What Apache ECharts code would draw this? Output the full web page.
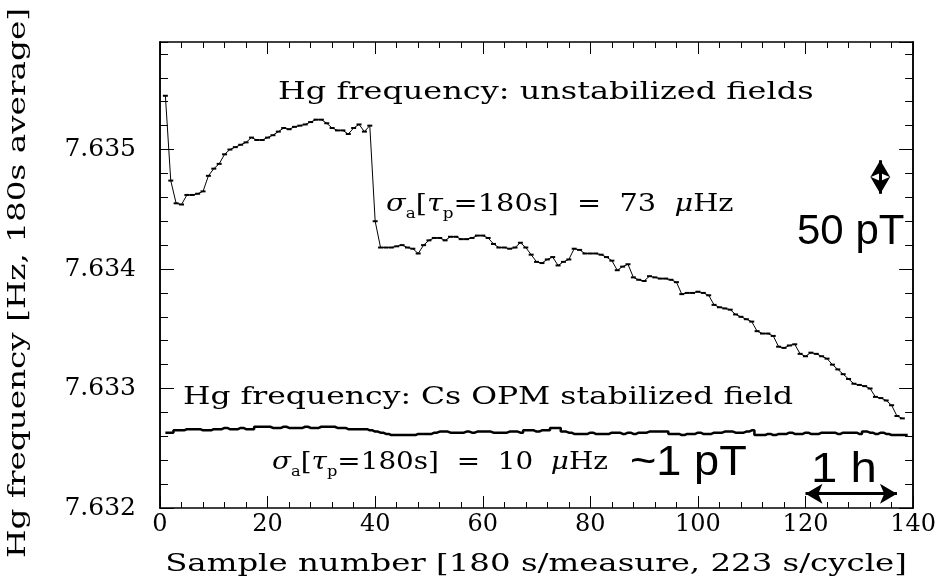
<!DOCTYPE html>
<html>
<head>
<meta charset="utf-8">
<script src="https://cdn.jsdelivr.net/npm/echarts@6/dist/echarts.min.js"></script>
<style>
html, body { margin: 0; padding: 0; background: #fff; }
#chart { width: 939px; height: 585px; }
</style>
</head>
<body>
<div id="chart"></div>
<script>
// Hg frequency, unstabilized fields (sample 1..138)
var unstabilized = [
  7.63545, 7.63474, 7.63455, 7.63454, 7.63462, 7.63462, 7.63463, 7.63465, 7.63478, 7.63484,
  7.63488, 7.63496, 7.63500, 7.63502, 7.63504, 7.63506, 7.63510, 7.63508, 7.63508, 7.63510,
  7.63512, 7.63515, 7.63518, 7.63517, 7.63519, 7.63520, 7.63521, 7.63523, 7.63525, 7.63525,
  7.63522, 7.63518, 7.63516, 7.63516, 7.63513, 7.63518, 7.63521, 7.63515, 7.63520, 7.63440,
  7.63418, 7.63418, 7.63418, 7.63419, 7.63420, 7.63418, 7.63417, 7.63413, 7.63420, 7.63424,
  7.63426, 7.63426, 7.63424, 7.63427, 7.63427, 7.63425, 7.63425, 7.63426, 7.63428, 7.63428,
  7.63426, 7.63421, 7.63418, 7.63418, 7.63417, 7.63418, 7.63422, 7.63418, 7.63412, 7.63406,
  7.63405, 7.63408, 7.63410, 7.63403, 7.63406, 7.63408, 7.63417, 7.63416, 7.63413, 7.63413,
  7.63413, 7.63412, 7.63410, 7.63407, 7.63399, 7.63402, 7.63404, 7.63393, 7.63391, 7.63390,
  7.63394, 7.63393, 7.63392, 7.63392, 7.63391, 7.63389, 7.63379, 7.63380, 7.63380, 7.63381,
  7.63380, 7.63378, 7.63370, 7.63368, 7.63367, 7.63366, 7.63362, 7.63360, 7.63358, 7.63356,
  7.63348, 7.63346, 7.63346, 7.63344, 7.63335, 7.63334, 7.63336, 7.63337, 7.63329, 7.63327,
  7.63330, 7.63329, 7.63327, 7.63325, 7.63320, 7.63316, 7.63312, 7.63308, 7.63304, 7.63303,
  7.63302, 7.63300, 7.63293, 7.63292, 7.63290, 7.63286, 7.63277, 7.63275
];

// Hg frequency, Cs OPM stabilized field (sample 1..139)
var stabilized = [
  7.63263, 7.63263, 7.63265, 7.63265, 7.63266, 7.63266, 7.63266, 7.63265, 7.63265, 7.63266,
  7.63266, 7.63267, 7.63266, 7.63266, 7.63267, 7.63266, 7.63266, 7.63268, 7.63268, 7.63268,
  7.63267, 7.63267, 7.63268, 7.63267, 7.63267, 7.63267, 7.63268, 7.63267, 7.63267, 7.63268,
  7.63268, 7.63268, 7.63267, 7.63267, 7.63266, 7.63266, 7.63266, 7.63266, 7.63265, 7.63264,
  7.63263, 7.63262, 7.63261, 7.63261, 7.63261, 7.63261, 7.63261, 7.63262, 7.63262, 7.63262,
  7.63263, 7.63264, 7.63264, 7.63263, 7.63263, 7.63263, 7.63264, 7.63263, 7.63264, 7.63264,
  7.63264, 7.63263, 7.63263, 7.63263, 7.63264, 7.63264, 7.63263, 7.63265, 7.63265, 7.63264,
  7.63265, 7.63265, 7.63267, 7.63267, 7.63264, 7.63263, 7.63262, 7.63262, 7.63262, 7.63263,
  7.63262, 7.63262, 7.63262, 7.63263, 7.63263, 7.63262, 7.63263, 7.63262, 7.63263, 7.63263,
  7.63264, 7.63264, 7.63264, 7.63264, 7.63262, 7.63262, 7.63261, 7.63262, 7.63262, 7.63263,
  7.63262, 7.63262, 7.63263, 7.63263, 7.63264, 7.63264, 7.63263, 7.63263, 7.63264, 7.63265,
  7.63261, 7.63261, 7.63262, 7.63261, 7.63262, 7.63262, 7.63263, 7.63262, 7.63262, 7.63263,
  7.63262, 7.63262, 7.63263, 7.63263, 7.63263, 7.63262, 7.63263, 7.63263, 7.63263, 7.63262,
  7.63264, 7.63263, 7.63262, 7.63263, 7.63262, 7.63261, 7.63261, 7.63261, 7.63261
];

var xTicks = [0, 140, 20];           // min, max, step
var yTicks = [7.632, 7.6359, 0.001]; // min, max, step

// scale arrows: "1 h" (horizontal) and "50 pT" (vertical), data coords
var hourArrow = [[120, 7.63212], [137, 7.63212]];
var pTArrow = [[133.9, 7.63491], [133.9, 7.63463]];

function toPairs(arr) {
  return arr.map(function (v, i) { return [i + 1, v]; });
}

var serif = 'DejaVu Serif';
var sans = 'Liberation Sans';

var chart = echarts.init(document.getElementById('chart'));

function xAx(pos, labels) {
  return {
    type: 'value', position: pos, min: xTicks[0], max: xTicks[1], interval: xTicks[2],
    axisLine: { show: true, onZero: false, lineStyle: { color: '#000', width: 1.5 } },
    axisTick: { show: true, inside: true, length: 12, lineStyle: { color: '#000', width: 1 } },
    minorTick: { show: true, splitNumber: 5, length: 6, lineStyle: { color: '#000', width: 1 } },
    splitLine: { show: false },
    axisLabel: { show: labels, margin: 5, color: '#000', fontFamily: serif, fontSize: 24 }
  };
}
function yAx(pos, step, len, labels) {
  return {
    type: 'value', position: pos, min: yTicks[0], max: yTicks[1], interval: step,
    axisLine: { show: true, onZero: false, lineStyle: { color: '#000', width: 1.5 } },
    axisTick: { show: true, inside: true, length: len, lineStyle: { color: '#000', width: 1 } },
    splitLine: { show: false },
    axisLabel: {
      show: labels, margin: 24, color: '#000', fontFamily: serif, fontSize: 25,
      showMaxLabel: false,
      formatter: function (v) { return v.toFixed(3); }
    }
  };
}

var sigmaRich = {
  i: { fontFamily: serif, fontSize: 24, fontStyle: 'italic', fill: '#000' },
  s: { fontFamily: serif, fontSize: 14, fill: '#000', padding: [18, 0, 0, 0] },
  n: { fontFamily: serif, fontSize: 24, fill: '#000' }
};

// wide serif text, stretched like the original plot font
function txt(x, y, text, font, size, sx, rich, extra) {
  var el = {
    type: 'text', x: x, y: y, scaleX: sx, silent: true,
    style: {
      text: text, fill: '#000', fontFamily: font, fontSize: size,
      verticalAlign: 'middle', rich: rich
    }
  };
  if (extra) {
    for (var k in extra.style || {}) el.style[k] = extra.style[k];
    if (extra.rotation) el.rotation = extra.rotation;
  }
  return el;
}

var option = {
  animation: false,
  backgroundColor: '#fff',
  grid: { left: 160, right: 23, top: 42, bottom: 77 },
  xAxis: [xAx('bottom', true), xAx('top', false)],
  yAxis: [
    yAx('left', yTicks[2], 14, true),
    yAx('left', 0.0002, 8, false),
    yAx('right', yTicks[2], 14, false),
    yAx('right', 0.0002, 8, false)
  ],
  series: [
    {
      name: 'unstabilized', type: 'line', data: toPairs(unstabilized),
      symbol: 'rect', symbolSize: [5, 2], showSymbol: true, showAllSymbol: true,
      itemStyle: { color: '#000' },
      lineStyle: { color: '#000', width: 1 }
    },
    {
      name: 'stabilized', type: 'line', data: toPairs(stabilized), step: 'middle',
      symbol: 'none',
      lineStyle: { color: '#000', width: 2.5 },
      markLine: {
        silent: true, symbol: ['arrow', 'arrow'], symbolSize: [15, 17],
        label: { show: false },
        lineStyle: { color: '#000', width: 3, type: 'solid' },
        data: [
          [{ coord: hourArrow[0] }, { coord: hourArrow[1] }],
          [{ coord: pTArrow[0] }, { coord: pTArrow[1] }]
        ]
      }
    }
  ],
  graphic: [
    txt(278, 93, 'Hg frequency: unstabilized fields', serif, 24, 1.33),
    txt(386, 205, '{i|σ}{s|a}{n|[}{i|τ}{s|p}{n|=180s]  =  73  }{i|μ}{n|Hz}', serif, 24, 1.2, sigmaRich),
    txt(797, 232, '50 pT', sans, 42, 1),
    txt(183, 398, 'Hg frequency: Cs OPM stabilized field', serif, 24, 1.31),
    txt(272, 463, '{i|σ}{s|a}{n|[}{i|τ}{s|p}{n|=180s]  =  10  }{i|μ}{n|Hz}', serif, 24, 1.16, sigmaRich),
    txt(630, 463, '~1 pT', sans, 43, 1.05),
    txt(811, 470, '1 h', sans, 43, 1.1),
    txt(536, 565, 'Sample number [180 s/measure, 223 s/cycle]', serif, 24, 1.35,
      null, { style: { align: 'center' } }),
    txt(19, 283, 'Hg frequency [Hz, 180s average]', serif, 24, 1.36,
      null, { style: { align: 'center' }, rotation: Math.PI / 2 })
  ]
};
chart.setOption(option);
</script>
</body>
</html>
